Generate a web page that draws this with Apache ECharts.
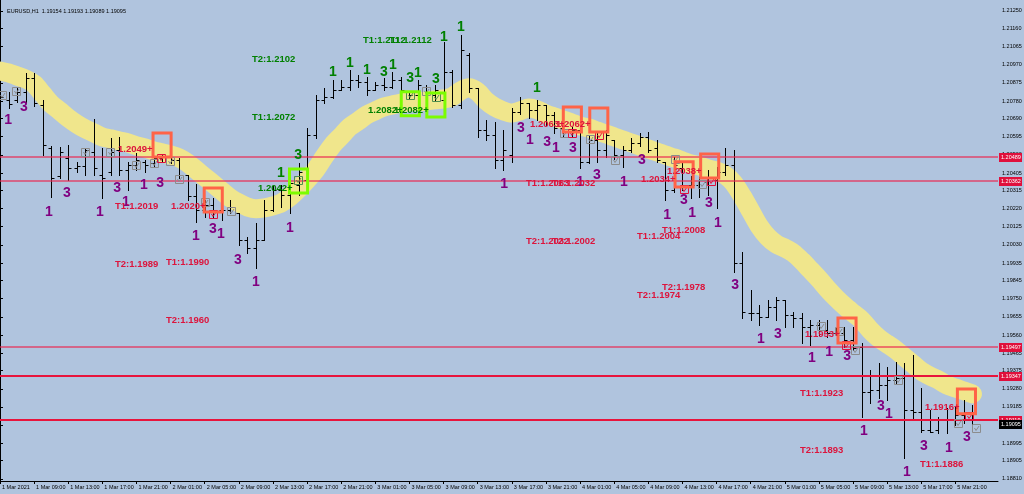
<!DOCTYPE html>
<html><head><meta charset="utf-8">
<script src="https://cdn.jsdelivr.net/npm/echarts@6/dist/echarts.min.js"></script>
<style>html,body{margin:0;padding:0;background:#B0C4DE}#c{width:1024px;height:494px}</style>
</head><body><div id="c"></div>
<script>
const symbolTitle = 'EURUSD,H1  1.19154 1.19193 1.19089 1.19095';
const timeTickLabels = ["1 Mar 2021","1 Mar 09:00","1 Mar 13:00","1 Mar 17:00","1 Mar 21:00","2 Mar 01:00","2 Mar 05:00","2 Mar 09:00","2 Mar 13:00","2 Mar 17:00","2 Mar 21:00","3 Mar 01:00","3 Mar 05:00","3 Mar 09:00","3 Mar 13:00","3 Mar 17:00","3 Mar 21:00","4 Mar 01:00","4 Mar 05:00","4 Mar 09:00","4 Mar 13:00","4 Mar 17:00","4 Mar 21:00","5 Mar 01:00","5 Mar 05:00","5 Mar 09:00","5 Mar 13:00","5 Mar 17:00","5 Mar 21:00"];
const priceTickLabels = [1.18810,1.18905,1.18995,1.19090,1.19185,1.19280,1.19375,1.19465,1.19560,1.19655,1.19750,1.19845,1.19935,1.20030,1.20125,1.20220,1.20315,1.20405,1.20500,1.20595,1.20690,1.20780,1.20875,1.20970,1.21065,1.21160,1.21250];

const openP = [1.20812,1.20786,1.20786,1.20828,1.20901,1.20760,1.20536,1.20390,1.20484,1.20431,
1.20442,1.20515,1.20395,1.20411,1.20525,1.20421,1.20447,1.20463,1.20457,1.20484,
1.20489,1.20473,1.20395,1.20285,1.20212,1.20239,1.20212,1.20212,1.20197,1.20056,
1.20014,1.20056,1.20212,1.20317,1.20291,1.20343,1.20369,1.20603,1.20786,1.20802,
1.20838,1.20854,1.20890,1.20880,1.20838,1.20864,1.20854,1.20890,1.20828,1.20812,
1.20854,1.20812,1.20786,1.20932,1.20760,1.21021,1.20849,1.20630,1.20603,1.20473,
1.20499,1.20723,1.20770,1.20734,1.20760,1.20708,1.20640,1.20619,1.20630,1.20463,
1.20577,1.20525,1.20577,1.20499,1.20525,1.20562,1.20593,1.20536,1.20463,1.20317,
1.20431,1.20343,1.20343,1.20358,1.20369,1.20411,1.20447,1.19936,1.19675,1.19675,
1.19655,1.19707,1.19743,1.19665,1.19649,1.19602,1.19613,1.19587,1.19571,1.19571,
1.19535,1.19498,1.19264,1.19274,1.19300,1.19326,1.19337,1.19170,1.19159,1.19065,
1.19065,1.19118,1.19118,1.19144,1.19154];
const highP = [1.20838,1.20828,1.20849,1.20927,1.20927,1.20786,1.20546,1.20541,1.20551,1.20463,
1.20536,1.20687,1.20536,1.20588,1.20593,1.20463,1.20510,1.20473,1.20489,1.20499,
1.20489,1.20484,1.20395,1.20348,1.20265,1.20275,1.20254,1.20265,1.20197,1.20072,
1.20145,1.20265,1.20338,1.20343,1.20379,1.20457,1.20640,1.20812,1.20849,1.20890,
1.20890,1.20942,1.20916,1.20906,1.20880,1.20901,1.20932,1.20906,1.20828,1.20890,
1.20864,1.20864,1.21088,1.20942,1.21125,1.21031,1.20849,1.20682,1.20671,1.20630,
1.20744,1.20802,1.20770,1.20786,1.20760,1.20723,1.20640,1.20645,1.20645,1.20603,
1.20619,1.20630,1.20577,1.20546,1.20588,1.20614,1.20619,1.20577,1.20463,1.20489,
1.20457,1.20390,1.20384,1.20421,1.20437,1.20536,1.20525,1.19993,1.19795,1.19717,
1.19743,1.19759,1.19743,1.19681,1.19675,1.19639,1.19639,1.19639,1.19602,1.19602,
1.19602,1.19519,1.19378,1.19415,1.19394,1.19420,1.19415,1.19456,1.19284,1.19170,
1.19133,1.19180,1.19185,1.19222,1.19193];
const lowP = [1.20786,1.20744,1.20776,1.20776,1.20755,1.20499,1.20280,1.20379,1.20369,1.20411,
1.20395,1.20395,1.20275,1.20395,1.20395,1.20317,1.20421,1.20411,1.20437,1.20463,
1.20457,1.20379,1.20265,1.20150,1.20176,1.20171,1.20160,1.20197,1.20030,1.19988,
1.19910,1.20056,1.20207,1.20228,1.20197,1.20291,1.20343,1.20588,1.20770,1.20796,
1.20838,1.20838,1.20854,1.20812,1.20838,1.20838,1.20849,1.20828,1.20796,1.20812,
1.20802,1.20786,1.20749,1.20749,1.20744,1.20828,1.20593,1.20577,1.20431,1.20421,
1.20463,1.20713,1.20692,1.20682,1.20656,1.20614,1.20598,1.20593,1.20431,1.20457,
1.20463,1.20489,1.20478,1.20437,1.20515,1.20546,1.20515,1.20463,1.20265,1.20306,
1.20317,1.20275,1.20280,1.20291,1.20223,1.20395,1.19889,1.19649,1.19639,1.19613,
1.19655,1.19639,1.19602,1.19602,1.19519,1.19509,1.19561,1.19550,1.19561,1.19498,
1.19483,1.19133,1.19206,1.19232,1.19222,1.19310,1.18919,1.19118,1.19055,1.19055,
1.19050,1.19050,1.19091,1.19102,1.19089];
const closeP = [1.20802,1.20765,1.20828,1.20901,1.20770,1.20551,1.20379,1.20515,1.20431,1.20442,
1.20525,1.20431,1.20379,1.20515,1.20421,1.20447,1.20473,1.20447,1.20484,1.20489,
1.20473,1.20395,1.20285,1.20212,1.20239,1.20202,1.20212,1.20228,1.20056,1.20014,
1.20056,1.20212,1.20317,1.20291,1.20353,1.20411,1.20603,1.20786,1.20802,1.20838,
1.20854,1.20890,1.20880,1.20838,1.20864,1.20854,1.20890,1.20838,1.20812,1.20864,
1.20812,1.20838,1.20932,1.20760,1.21047,1.20849,1.20630,1.20603,1.20473,1.20525,
1.20723,1.20770,1.20734,1.20760,1.20708,1.20640,1.20619,1.20630,1.20463,1.20577,
1.20525,1.20603,1.20499,1.20525,1.20562,1.20593,1.20525,1.20473,1.20317,1.20447,
1.20343,1.20343,1.20369,1.20379,1.20411,1.20447,1.19936,1.19681,1.19675,1.19655,
1.19707,1.19743,1.19665,1.19649,1.19602,1.19613,1.19587,1.19571,1.19571,1.19535,
1.19493,1.19264,1.19274,1.19300,1.19326,1.19337,1.19170,1.19159,1.19065,1.19055,
1.19118,1.19118,1.19144,1.19154,1.19095];
const maBand = [1.20937,1.20927,1.20911,1.20895,1.20869,1.20817,1.20765,1.20729,1.20692,1.20661,
1.20635,1.20614,1.20593,1.20583,1.20572,1.20562,1.20546,1.20536,1.20520,1.20510,
1.20499,1.20484,1.20457,1.20421,1.20384,1.20348,1.20311,1.20275,1.20249,1.20228,
1.20218,1.20223,1.20233,1.20249,1.20280,1.20322,1.20369,1.20421,1.20489,1.20551,
1.20598,1.20645,1.20676,1.20708,1.20729,1.20749,1.20760,1.20770,1.20776,1.20776,
1.20781,1.20786,1.20791,1.20802,1.20833,1.20849,1.20828,1.20781,1.20749,1.20729,
1.20718,1.20729,1.20744,1.20734,1.20713,1.20697,1.20682,1.20666,1.20650,1.20640,
1.20624,1.20609,1.20593,1.20577,1.20562,1.20546,1.20530,1.20515,1.20499,1.20484,
1.20468,1.20452,1.20442,1.20426,1.20416,1.20395,1.20353,1.20285,1.20207,1.20129,
1.20072,1.20035,1.20014,1.19988,1.19947,1.19900,1.19853,1.19801,1.19754,1.19712,
1.19675,1.19639,1.19587,1.19545,1.19514,1.19483,1.19446,1.19410,1.19373,1.19347,
1.19326,1.19300,1.19284,1.19269,1.19253];

const thinLevels = [1.20489, 1.20362, 1.19497];
const thickLevels = [1.19347, 1.19119];
const bidPrice = 1.19095;

const purpleMarks = [[0.94,1.20682,'1'],[2.81,1.20749,'3'],[5.74,1.20202,'1'],[7.85,1.20301,'3'],[11.72,1.20202,'1'],[13.72,1.20327,'3'],[14.77,1.20254,'1'],[16.88,1.20343,'1'],[18.76,1.20353,'3'],[22.98,1.20077,'1'],[24.97,1.20113,'3'],[25.91,1.20087,'1'],[27.9,1.19952,'3'],[30.01,1.19837,'1'],[34.0,1.20119,'1'],[59.09,1.20348,'1'],[61.08,1.20640,'3'],[62.13,1.20577,'1'],[64.13,1.20567,'3'],[65.18,1.20536,'1'],[67.17,1.20536,'3'],[68.0,1.20358,'1'],[69.99,1.20395,'3'],[73.15,1.20358,'1'],[75.26,1.20473,'3'],[78.2,1.20186,'1'],[80.19,1.20265,'3'],[81.13,1.20197,'1'],[83.12,1.20249,'3'],[84.17,1.20145,'1'],[86.17,1.19821,'3'],[89.21,1.19540,'1'],[91.21,1.19566,'3'],[95.19,1.19441,'1'],[97.19,1.19472,'1'],[99.3,1.19451,'3'],[101.29,1.19060,'1'],[103.28,1.19190,'3'],[104.22,1.19149,'1'],[106.33,1.18846,'1'],[108.32,1.18982,'3'],[111.25,1.18971,'1'],[113.36,1.19029,'3']];
const greenMarks = [[32.94,1.20405,'1'],[34.94,1.20499,'3'],[39.04,1.20932,'1'],[41.03,1.20979,'1'],[43.02,1.20942,'1'],[45.02,1.20932,'3'],[46.07,1.20968,'1'],[48.07,1.20901,'3'],[49.0,1.20927,'1'],[51.11,1.20895,'3'],[52.05,1.21114,'1'],[54.04,1.21167,'1'],[62.95,1.20849,'1']];
const redTexts = [[13.83,1.20530,'1.2049+'],[13.48,1.20233,'T1:1.2019'],[20.05,1.20233,'1.2020+'],[13.48,1.19931,'T2:1.1989'],[19.46,1.19941,'T1:1.1990'],[19.46,1.19639,'T2:1.1960'],[62.13,1.20661,'1.2063+'],[65.18,1.20661,'1.2062+'],[61.66,1.20353,'T1:1.2063'],[64.71,1.20353,'T1:1.2032'],[61.66,1.20051,'T2:1.2032'],[64.71,1.20051,'T2:1.2002'],[75.15,1.20374,'1.2034+'],[78.19,1.20411,'1.2038+'],[74.68,1.20077,'T1:1.2004'],[77.61,1.20108,'T1:1.2008'],[74.68,1.19769,'T2:1.1974'],[77.61,1.19806,'T2:1.1978'],[94.37,1.19561,'1.1953+'],[93.79,1.19258,'T1:1.1923'],[93.79,1.18961,'T2:1.1893'],[108.44,1.19185,'1.1916+'],[107.85,1.18888,'T1:1.1886']];
const greenTexts = [[29.54,1.21000,'T2:1.2102'],[29.54,1.20697,'T1:1.2072'],[42.56,1.21099,'T1:1.2112'],[45.6,1.21094,'T1:1.2112'],[43.14,1.20729,'1.2082+'],[46.2,1.20729,'1.2082+'],[30.25,1.20327,'1.2042+']];
const orangeBoxes = [[19.0,1.20614,1.20489],[25.0,1.20327,1.20202],[67.1,1.20749,1.20619],[70.2,1.20744,1.20619],[80.2,1.20463,1.20332],[83.2,1.20504,1.20379],[99.3,1.19649,1.19519],[113.3,1.19279,1.19149]];
const greenBoxes = [[35.0,1.20426,1.20301],[48.1,1.20828,1.20703],[51.1,1.20822,1.20697]];
const grayTicks = [[0.23,1.20812],[1.88,1.20833],[9.96,1.20515],[12.9,1.20515],[15.94,1.20447],[18.05,1.20457],[19.93,1.20468],[20.98,1.20374],[24.03,1.20254],[27.08,1.20207],[49.94,1.20833],[66.12,1.20614],[69.17,1.20583],[72.1,1.20473],[79.13,1.20478],[82.3,1.20348],[96.25,1.19608],[98.36,1.19582],[100.23,1.19483],[105.28,1.19326],[112.31,1.19102],[114.42,1.19076]];
const redTicks = [[18.87,1.20484],[24.97,1.20192],[67.06,1.20614],[70.22,1.20603],[80.19,1.20322],[83.35,1.20364],[99.18,1.19509],[113.6,1.19138]];
const greenTicks = [[34.94,1.20369],[48.07,1.20812],[51.11,1.20802]];

const chart = echarts.init(document.getElementById('c'), null, {renderer: 'canvas'});
const idx = openP.map((_, i) => i);
const FONT = '"Liberation Sans", Arial, sans-serif';
const tickPos = timeTickLabels.map((_, k) => k * 4);
const X_MIN = 0, X_MAX = 117;

function textSeries(arr, color, size, align) {
  return {
    type: 'custom', coordinateSystem: 'cartesian2d', silent: true, z: 8,
    data: arr.map(a => [a[0], a[1]]),
    renderItem: (params, api) => {
      const pt = api.coord([api.value(0), api.value(1)]);
      return {type: 'text', x: pt[0], y: pt[1],
        style: {text: arr[params.dataIndex][2], fill: color, font: 'bold ' + size + 'px ' + FONT, align: align, verticalAlign: 'middle'}};
    }
  };
}
function boxSeries(arr, color) {
  return {
    type: 'custom', coordinateSystem: 'cartesian2d', silent: true, z: 6,
    data: arr,
    renderItem: (params, api) => {
      const c = api.value(0);
      const p1 = api.coord([c - 1.06, api.value(1)]);
      const p2 = api.coord([c + 1.06, api.value(2)]);
      return {type: 'rect', shape: {x: p1[0], y: p1[1], width: p2[0] - p1[0], height: p2[1] - p1[1]},
        style: {fill: 'none', stroke: color, lineWidth: 3}};
    }
  };
}
function tickSeries(arr, color) {
  return {
    type: 'custom', coordinateSystem: 'cartesian2d', silent: true, z: 5,
    data: arr,
    renderItem: (params, api) => {
      const p = api.coord([api.value(0), api.value(1)]);
      const x = Math.round(p[0]) + 0.5, y = Math.round(p[1]) + 0.5;
      return {type: 'group', children: [
        {type: 'rect', shape: {x: x - 4, y: y - 4, width: 8, height: 8}, style: {fill: 'none', stroke: color, lineWidth: 1}},
        {type: 'polyline', shape: {points: [[x - 2, y - 0.5], [x - 0.5, y + 2], [x + 2.5, y - 2.5]]}, style: {fill: 'none', stroke: color, lineWidth: 1}}
      ]};
    }
  };
}
function levelSeries(levels, color, width) {
  return {
    type: 'custom', coordinateSystem: 'cartesian2d', silent: true, z: 4,
    data: levels.map(v => [X_MIN, v]),
    renderItem: (params, api) => {
      const a = api.coord([X_MIN, api.value(1)]);
      const b = api.coord([X_MAX, api.value(1)]);
      const y = width % 2 ? Math.round(a[1]) + 0.5 : Math.round(a[1]);
      return {type: 'line', shape: {x1: a[0], y1: y, x2: b[0], y2: y}, style: {stroke: color, lineWidth: width}};
    }
  };
}
function priceTagSeries(levels, bg) {
  return {
    type: 'custom', coordinateSystem: 'cartesian2d', silent: true, z: 9, clip: false,
    data: levels.map(v => [X_MAX, v]),
    renderItem: (params, api) => {
      const p = api.coord([X_MAX, api.value(1)]);
      const y = Math.round(p[1]);
      return {type: 'group', children: [
        {type: 'rect', shape: {x: p[0] + 1, y: y - 4, width: 23, height: 9}, style: {fill: bg}},
        {type: 'text', x: p[0] + 3, y: y + 0.5, style: {text: api.value(1).toFixed(5), fill: '#fff', font: '5.5px ' + FONT, align: 'left', verticalAlign: 'middle'}}
      ]};
    }
  };
}

const option = {
  backgroundColor: '#B0C4DE',
  animation: false,
  textStyle: {fontFamily: FONT},
  title: {text: symbolTitle, left: 2, top: 3, textStyle: {fontSize: 5.5, fontWeight: 'normal', color: '#000', fontFamily: FONT}},
  grid: {left: 0, right: 26, top: 0, bottom: 13, outerBoundsMode: 'none', containLabel: false},
  xAxis: {
    type: 'value', min: X_MIN, max: X_MAX,
    axisLine: {show: true, lineStyle: {color: '#000', width: 1}},
    axisTick: {show: true, customValues: tickPos, length: 3, lineStyle: {color: '#000'}},
    axisLabel: {customValues: tickPos, formatter: v => timeTickLabels[Math.round(v / 4)], align: 'left', fontSize: 5.5, color: '#000', margin: 3, padding: [0, 0, 0, 2]},
    splitLine: {show: false}
  },
  yAxis: {
    type: 'value', position: 'right', min: 1.18799, max: 1.21307, scale: true,
    axisLine: {show: true, lineStyle: {color: '#000', width: 1}},
    axisTick: {show: true, customValues: priceTickLabels, length: 3, lineStyle: {color: '#000'}},
    axisLabel: {customValues: priceTickLabels, formatter: v => v.toFixed(5), fontSize: 5.5, color: '#000', margin: 4},
    splitLine: {show: false}
  },
  series: [
    {type: 'line', data: idx.map(i => [i, maBand[i]]), symbol: 'none', showSymbol: false, smooth: 0.3, silent: true, z: 1,
      lineStyle: {color: '#F0E68C', width: 19, cap: 'round', join: 'round'}},
    levelSeries(thinLevels, 'rgba(235,40,80,0.6)', 2),
    levelSeries(thickLevels, '#E8143C', 2),
    priceTagSeries(thinLevels.concat(thickLevels), '#E0103C'),
    priceTagSeries([bidPrice], '#000000'),
    {type: 'custom', coordinateSystem: 'cartesian2d', silent: true, z: 3,
      data: idx.map(i => [i, openP[i], highP[i], lowP[i], closeP[i]]),
      encode: {x: 0, y: [1, 2, 3, 4]},
      renderItem: (params, api) => {
        const i = api.value(0);
        const o = api.coord([i, api.value(1)]);
        const h = api.coord([i, api.value(2)]);
        const l = api.coord([i, api.value(3)]);
        const c = api.coord([i, api.value(4)]);
        const x = Math.round(h[0]) + 0.5;
        const st = {stroke: '#000', lineWidth: 1};
        return {type: 'group', children: [
          {type: 'line', shape: {x1: x, y1: Math.round(h[1]), x2: x, y2: Math.round(l[1]) + 1}, style: st},
          {type: 'line', shape: {x1: x - 3, y1: Math.round(o[1]) + 0.5, x2: x, y2: Math.round(o[1]) + 0.5}, style: st},
          {type: 'line', shape: {x1: x, y1: Math.round(c[1]) + 0.5, x2: x + 3, y2: Math.round(c[1]) + 0.5}, style: st}
        ]};
      }
    },
    boxSeries(orangeBoxes, '#FF6347'),
    boxSeries(greenBoxes, '#7CFC00'),
    tickSeries(grayTicks, '#8C8C8C'),
    tickSeries(redTicks, '#E0103C'),
    tickSeries(greenTicks, '#4F8F4F'),
    textSeries(purpleMarks, '#800080', 14, 'center'),
    textSeries(greenMarks, '#008000', 14, 'center'),
    textSeries(redTexts, '#DC143C', 9.5, 'left'),
    textSeries(greenTexts, '#008000', 9.5, 'left')
  ]
};
chart.setOption(option);
</script></body></html>
